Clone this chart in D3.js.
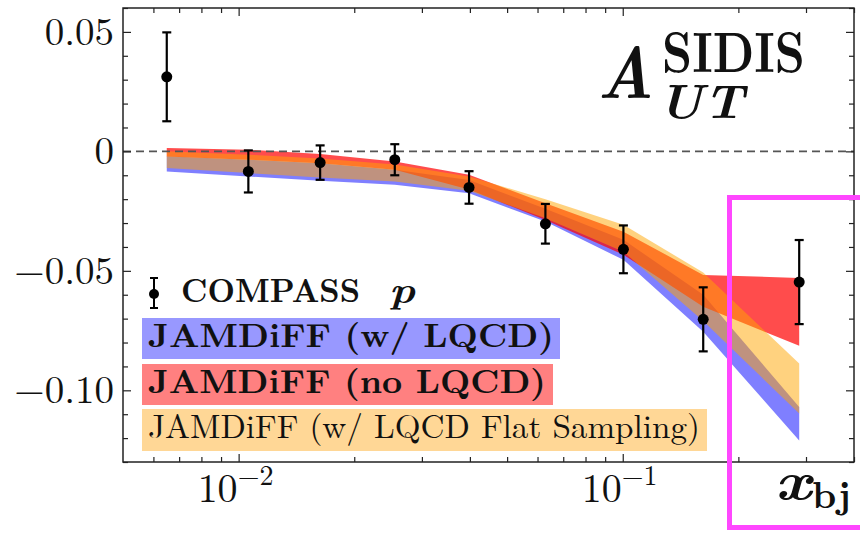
<!DOCTYPE html>
<html>
<head>
<meta charset="utf-8">
<script src="https://cdn.jsdelivr.net/npm/d3@7"></script>
<style>
  html, body { margin: 0; padding: 0; background: #fff; }
  svg { display: block; }
</style>
</head>
<body>
<svg id="chart" width="860" height="535"></svg>
<script>
// ---------------- data ----------------
const xBins      = [0.0065, 0.0106, 0.0163, 0.0255, 0.0398, 0.0629, 0.1004, 0.162, 0.288];
const compassVal = [0.0312, -0.0084, -0.0047, -0.0035, -0.0151, -0.0303, -0.0410, -0.0703, -0.0547];
const compassErr = [0.0186, 0.0088, 0.0072, 0.0065, 0.0068, 0.0083, 0.0100, 0.0134, 0.0176];

// bands: lower / upper
const blueLow   = [-0.0084, -0.0105, -0.0123, -0.0140, -0.0175, -0.0294, -0.0454, -0.0755, -0.1210];
const blueHigh  = [-0.0020, -0.0035, -0.0050, -0.0077, -0.0120, -0.0240, -0.0370, -0.0600, -0.1070];
const redLow    = [-0.0021, -0.0035, -0.0050, -0.0077, -0.0160, -0.0287, -0.0433, -0.0650, -0.0814];
const redHigh   = [ 0.0014,  0.0007, -0.0011, -0.0042, -0.0098, -0.0217, -0.0336, -0.0517, -0.0530];
const flatLow   = [-0.0070, -0.0091, -0.0109, -0.0126, -0.0165, -0.0280, -0.0420, -0.0710, -0.1097];
const flatHigh  = [ 0.0000, -0.0014, -0.0030, -0.0055, -0.0105, -0.0200, -0.0307, -0.0507, -0.0888];

const yMajorTicks = [0.05, 0, -0.05, -0.10];
const yMajorLabels = ["0.05", "0", "\u22120.05", "\u22120.10"];
const yMinorTicks = [0.06, 0.04, 0.03, 0.02, 0.01, -0.01, -0.02, -0.03, -0.04, -0.06, -0.07, -0.08, -0.09, -0.11, -0.12, -0.13];
const xMajorTicks = [0.01, 0.1];
const xMajorExp = ["\u22122", "\u22121"];
const xMinorTicks = [0.006, 0.007, 0.008, 0.009, 0.02, 0.03, 0.04, 0.05, 0.06, 0.07, 0.08, 0.09, 0.2, 0.3, 0.4];

const legendLabels = ["COMPASS", "JAMDiFF (w/ LQCD)", "JAMDiFF (no LQCD)", "JAMDiFF (w/ LQCD Flat Sampling)"];

// ---------------- layout ----------------
const SERIF = "Latin Modern Roman";
const L = 123, R = 854, T = 8, B = 462;
const svg = d3.select("#chart");

const x = d3.scaleLog().domain([0.005, 0.4]).range([L, R]);
const y = d3.scaleLinear().domain([-0.13, 0.06]).range([B, T]);

function txt(parent) {
  return parent.append("text").attr("font-family", SERIF).attr("fill", "#111");
}

// bands
const area = (lo, hi) => d3.area()
  .x((d, i) => x(xBins[i]))
  .y0((d, i) => y(lo[i]))
  .y1((d, i) => y(hi[i]))(xBins);

const plot = svg.append("g");
plot.append("path").attr("d", area(blueLow, blueHigh)).attr("fill", "#0000ff").attr("fill-opacity", 0.5);
plot.append("path").attr("d", area(redLow, redHigh)).attr("fill", "#ff0000").attr("fill-opacity", 0.7);
plot.append("path").attr("d", area(flatLow, flatHigh)).attr("fill", "#ffa500").attr("fill-opacity", 0.5);

// zero line
plot.append("line")
  .attr("x1", L).attr("x2", R).attr("y1", y(0)).attr("y2", y(0))
  .attr("stroke", "#555").attr("stroke-width", 1.6).attr("stroke-dasharray", "8,5");

// data points
const pts = plot.append("g");
xBins.forEach((xv, i) => {
  const cx = x(xv), v = compassVal[i], e = compassErr[i];
  pts.append("line").attr("x1", cx).attr("x2", cx).attr("y1", y(v - e)).attr("y2", y(v + e))
    .attr("stroke", "#000").attr("stroke-width", 2.2);
  [v - e, v + e].forEach(c => {
    pts.append("line").attr("x1", cx - 4.5).attr("x2", cx + 4.5).attr("y1", y(c)).attr("y2", y(c))
      .attr("stroke", "#000").attr("stroke-width", 2.2);
  });
  pts.append("circle").attr("cx", cx).attr("cy", y(v)).attr("r", 5.5).attr("fill", "#000");
});

// axes (inward ticks)
function styleAxis(g) {
  g.select(".domain").remove();
  g.selectAll(".tick line").attr("stroke", "#222").attr("stroke-width", 1.2);
  g.selectAll(".tick text").remove();
}
svg.append("g").attr("transform", `translate(${L},0)`)
  .call(d3.axisLeft(y).tickValues(yMajorTicks).tickSize(-8)).call(styleAxis);
svg.append("g").attr("transform", `translate(${L},0)`)
  .call(d3.axisLeft(y).tickValues(yMinorTicks).tickSize(-5)).call(styleAxis);
svg.append("g").attr("transform", `translate(${R},0)`)
  .call(d3.axisRight(y).tickValues(yMajorTicks).tickSize(-8)).call(styleAxis);
svg.append("g").attr("transform", `translate(${R},0)`)
  .call(d3.axisRight(y).tickValues(yMinorTicks).tickSize(-5)).call(styleAxis);
svg.append("g").attr("transform", `translate(0,${B})`)
  .call(d3.axisBottom(x).tickValues(xMajorTicks).tickSize(-8)).call(styleAxis);
svg.append("g").attr("transform", `translate(0,${B})`)
  .call(d3.axisBottom(x).tickValues(xMinorTicks).tickSize(-5)).call(styleAxis);
svg.append("g").attr("transform", `translate(0,${T})`)
  .call(d3.axisTop(x).tickValues(xMajorTicks).tickSize(-8)).call(styleAxis);
svg.append("g").attr("transform", `translate(0,${T})`)
  .call(d3.axisTop(x).tickValues(xMinorTicks).tickSize(-5)).call(styleAxis);

// frame
svg.append("rect").attr("x", L).attr("y", T).attr("width", R - L).attr("height", B - T)
  .attr("fill", "none").attr("stroke", "#222").attr("stroke-width", 1.5);

// y tick labels
yMajorTicks.forEach((t, i) => {
  txt(svg).attr("x", 114).attr("y", y(t) + 13)
    .attr("text-anchor", "end").attr("font-size", 39)
    .text(yMajorLabels[i]);
});
// x tick labels
xMajorTicks.forEach((t, i) => {
  const tx = txt(svg).attr("x", x(t) - 41).attr("y", 502).attr("font-size", 40);
  tx.append("tspan").text("10");
  tx.append("tspan").attr("dy", -17).attr("font-size", 28).text(xMajorExp[i]);
});

// x label
txt(svg).attr("x", 775).attr("y", 499).attr("font-size", 54)
  .attr("font-weight", "bold").attr("font-style", "italic")
  .attr("textLength", 36).attr("lengthAdjust", "spacingAndGlyphs").text("x");
txt(svg).attr("x", 812).attr("y", 508).attr("font-size", 38)
  .attr("font-weight", "bold").attr("textLength", 39).attr("lengthAdjust", "spacingAndGlyphs").text("bj");

// title A_UT^SIDIS
txt(svg).attr("x", 597).attr("y", 98).attr("font-size", 73)
  .attr("font-weight", "bold").attr("font-style", "italic")
  .attr("textLength", 57).attr("lengthAdjust", "spacingAndGlyphs").text("A");
txt(svg).attr("x", 662).attr("y", 72).attr("font-size", 57)
  .attr("font-weight", "bold")
  .attr("textLength", 143).attr("lengthAdjust", "spacingAndGlyphs").text("SIDIS");
txt(svg).attr("x", 658).attr("y", 118).attr("font-size", 47)
  .attr("font-weight", "bold").attr("font-style", "italic")
  .attr("textLength", 86).attr("lengthAdjust", "spacingAndGlyphs").text("UT");

// legend
const lg = svg.append("g");
const mx = 154;
lg.append("line").attr("x1", mx).attr("x2", mx).attr("y1", 278).attr("y2", 308).attr("stroke", "#000").attr("stroke-width", 2);
[278, 308].forEach(c => lg.append("line").attr("x1", mx - 4).attr("x2", mx + 4).attr("y1", c).attr("y2", c).attr("stroke", "#000").attr("stroke-width", 2));
lg.append("circle").attr("cx", mx).attr("cy", 294).attr("r", 5).attr("fill", "#000");
txt(lg).attr("x", 181).attr("y", 302).attr("font-size", 33).attr("font-weight", "bold")
  .attr("textLength", 179).attr("lengthAdjust", "spacingAndGlyphs").text(legendLabels[0]);
txt(lg).attr("x", 389).attr("y", 302).attr("font-size", 36).attr("font-weight", "bold")
  .attr("font-style", "italic").attr("textLength", 26).attr("lengthAdjust", "spacingAndGlyphs").text("p");

const boxes = [
  { y0: 318, h: 41, fill: "#9898ff", label: legendLabels[1], w: 418, tl: 406, bold: true, base: 347 },
  { y0: 364, h: 41, fill: "#ff8080", label: legendLabels[2], w: 411, tl: 398, bold: true, base: 393 },
  { y0: 409, h: 42, fill: "#ffd796", label: legendLabels[3], w: 565, tl: 552, bold: false, base: 438 }
];
boxes.forEach(b => {
  lg.append("rect").attr("x", 142).attr("y", b.y0).attr("width", b.w).attr("height", b.h).attr("fill", b.fill);
  txt(lg).attr("x", 148).attr("y", b.base).attr("font-size", 33)
    .attr("font-weight", b.bold ? "bold" : "normal")
    .attr("textLength", b.tl).attr("lengthAdjust", "spacingAndGlyphs").text(b.label);
});

// magenta highlight box
svg.append("rect").attr("x", 729.5).attr("y", 197.5).attr("width", 160).attr("height", 330)
  .attr("fill", "none").attr("stroke", "#ff47ff").attr("stroke-width", 5);
</script>
</body>
</html>
